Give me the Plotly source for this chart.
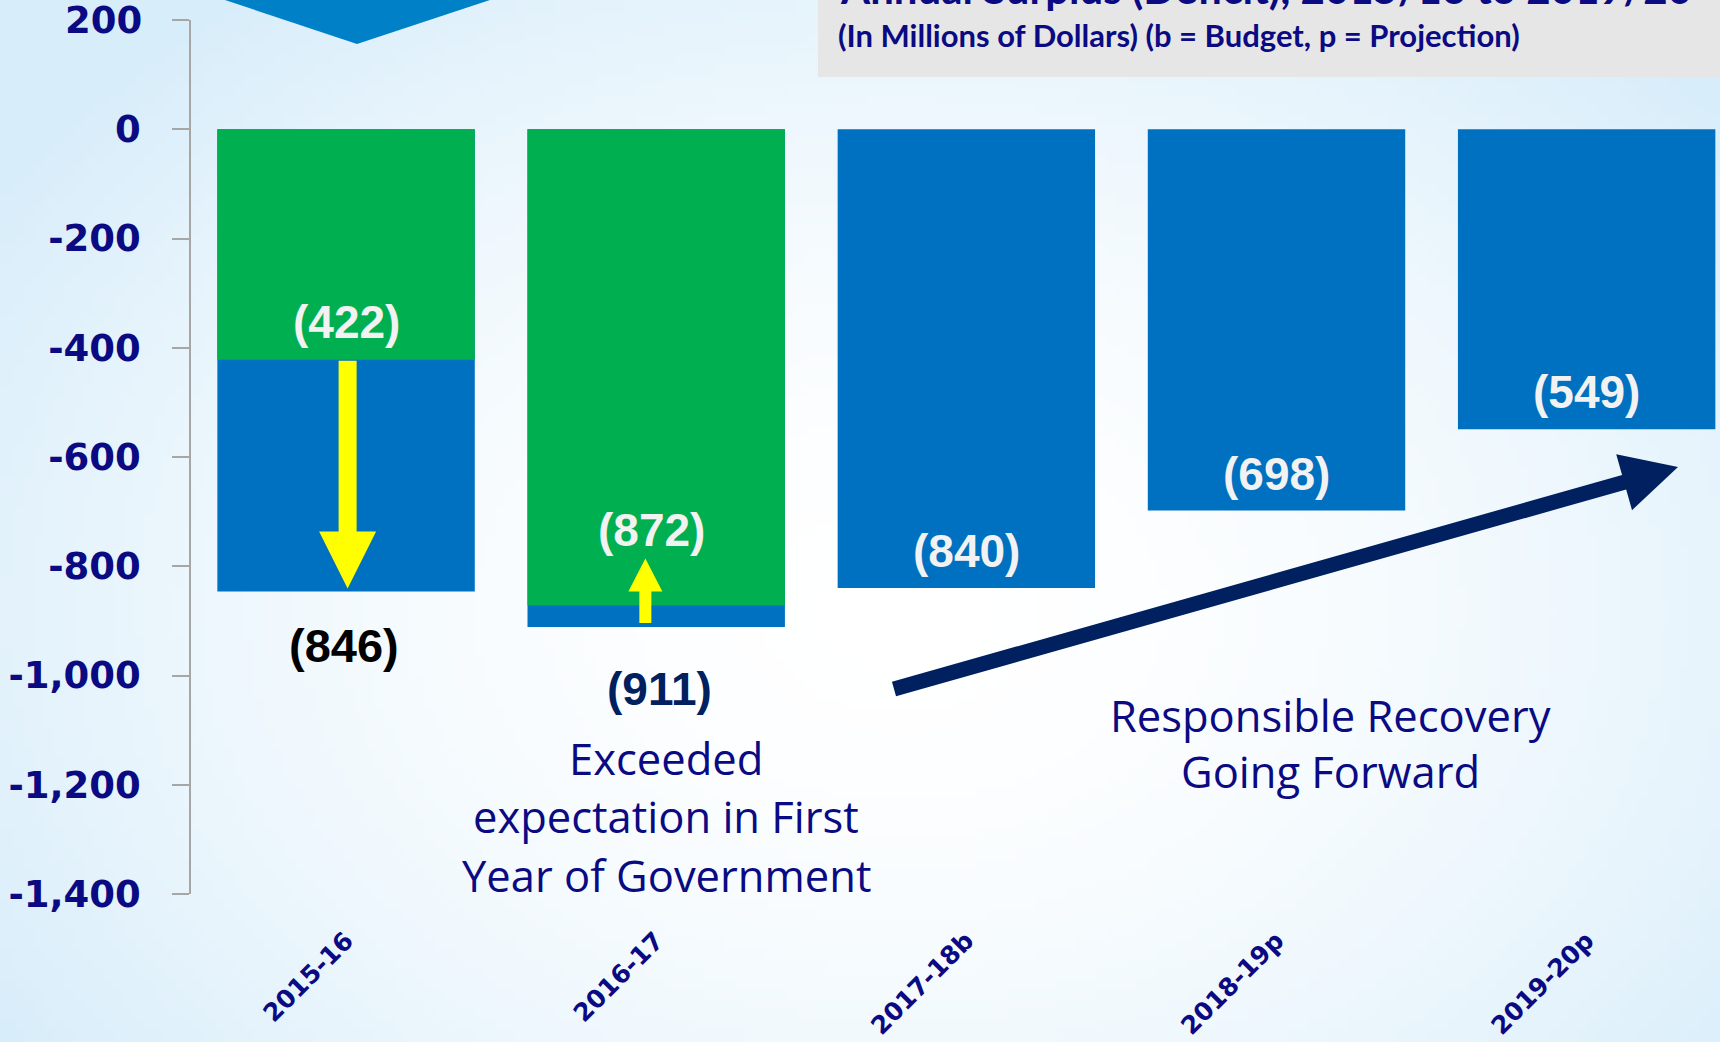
import base64, math, struct, zlib
import plotly.graph_objects as go

# ---------------- data ----------------
categories = ["2015-16", "2016-17", "2017-18b", "2018-19p", "2019-20p"]
actual = [-846, -911, -840, -698, -549]          # blue bars (actual / budget / projection)
expected = [-422, -872, None, None, None]        # green bars (original expectation)
y_ticks = [200, 0, -200, -400, -600, -800, -1000, -1200, -1400]
y_tick_labels = ["200", "0", "-200", "-400", "-600", "-800", "-1,000", "-1,200", "-1,400"]

# ---------------- geometry ----------------
W, H = 1720, 1042
ML, MR, MT, MB = 191, 0, 20, 148
PW, PH = W - ML - MR, H - MT - MB
X_RANGE = [-0.5, 4.43]
Y_RANGE = [-1400, 200]
XPX = PW / (X_RANGE[1] - X_RANGE[0])      # px per category unit
YPX = PH / (Y_RANGE[1] - Y_RANGE[0])      # px per value unit

def px_to_paper(px, py):
    return (px - ML) / PW, (H - MB - py) / PH

NAVY = "#0A0A82"
BLUE = "#0070C0"
GREEN = "#00B050"

# ---------------- background gradient (PNG data uri) ----------------
def make_bg(w=172, h=104):
    cx, cy, rx, ry = 0.52 * w, 0.58 * h, 0.62 * w, 0.75 * h
    edge = (216, 237, 250)
    rows = []
    for j in range(h):
        row = bytearray([0])
        for i in range(w):
            d = math.hypot((i - cx) / rx, (j - cy) / ry)
            t = min(1.0, d) ** 1.8
            row += bytes(int(round(255 * (1 - t) + c * t)) for c in edge)
        rows.append(bytes(row))
    raw = b"".join(rows)
    def chunk(tag, data):
        c = struct.pack(">I", len(data)) + tag + data
        return c + struct.pack(">I", zlib.crc32(tag + data) & 0xFFFFFFFF)
    png = b"\x89PNG\r\n\x1a\n" + chunk(b"IHDR", struct.pack(">IIBBBBB", w, h, 8, 2, 0, 0, 0)) \
        + chunk(b"IDAT", zlib.compress(raw, 9)) + chunk(b"IEND", b"")
    return "data:image/png;base64," + base64.b64encode(png).decode()

fig = go.Figure()
xs = list(range(len(categories)))
fig.add_trace(go.Bar(x=xs, y=actual, width=0.83, marker=dict(color=BLUE, line=dict(width=0)),
                     hoverinfo="x+y", showlegend=False))
fig.add_trace(go.Bar(x=xs, y=expected, width=0.83, marker=dict(color=GREEN, line=dict(width=0)),
                     hoverinfo="x+y", showlegend=False))

def fmt(v):
    return f"({abs(v):,})"

annotations = []
label_font = dict(family="Liberation Sans, Arial", size=46, color="#F2F2F2", weight="bold")
# labels inside bars (light)
for i, v in enumerate(actual):
    if expected[i] is None:
        annotations.append(dict(x=i, y=v, text=fmt(v), showarrow=False, yanchor="middle",
                                yshift=37, font=label_font))
annotations.append(dict(x=0, y=expected[0], text=fmt(expected[0]), showarrow=False,
                        yanchor="middle", yshift=38, font=label_font))
annotations.append(dict(x=1, y=expected[1], text=fmt(expected[1]), showarrow=False,
                        yanchor="middle", yshift=76, xshift=-5, font=label_font))
# labels below bars (dark)
annotations.append(dict(x=0, y=actual[0], text=fmt(actual[0]), showarrow=False, yanchor="middle",
                        yshift=-54, xshift=-2,
                        font=dict(family="Liberation Sans, Arial", size=47, color="#000000",
                                  weight="bold")))
annotations.append(dict(x=1, y=actual[1], text=fmt(actual[1]), showarrow=False, yanchor="middle",
                        yshift=-62, xshift=3,
                        font=dict(family="Liberation Sans, Arial", size=46, color="#002060",
                                  weight="bold")))

text_font = dict(family="Open Sans", size=43.5, color=NAVY)
for line, py in [("Exceeded", 758), ("expectation in First", 816), ("Year of Government", 875)]:
    xp, yp = px_to_paper(666, py)
    annotations.append(dict(xref="paper", yref="paper", x=xp, y=yp, text=line, showarrow=False,
                            xanchor="center", yanchor="middle", font=text_font))
for line, py in [("Responsible Recovery", 715), ("Going Forward", 771)]:
    xp, yp = px_to_paper(1330, py)
    annotations.append(dict(xref="paper", yref="paper", x=xp, y=yp, text=line, showarrow=False,
                            xanchor="center", yanchor="middle", font=text_font))

# title (cut off at top of the slide) and subtitle
xp, yp = px_to_paper(838, 15)
annotations.append(dict(xref="paper", yref="paper", x=xp, y=yp, xanchor="left", yanchor="bottom",
                        text="<b>Annual Surplus (Deficit), 2015/16 to 2019/20</b>", showarrow=False,
                        font=dict(family="Lato", size=42, color=NAVY)))
xp, yp = px_to_paper(836, 35)
annotations.append(dict(xref="paper", yref="paper", x=xp, y=yp, xanchor="left", yanchor="middle",
                        text="<b>(In Millions of Dollars) (b = Budget, p = Projection)</b>", showarrow=False,
                        font=dict(family="Lato", size=31, color=NAVY)))

# the top y tick label sits at the very edge of the figure: draw it as an annotation
tick_font = dict(family="DejaVu Sans", size=37, color=NAVY, weight="bold")
annotations.append(dict(xref="paper", yref="y", x=0, y=y_ticks[0], text=y_tick_labels[0],
                        showarrow=False, xanchor="right", yanchor="middle", xshift=-47,
                        font=tick_font))
axis_tick_text = [""] + y_tick_labels[1:]

shapes = []
# grey title box
x0, y0 = px_to_paper(818, 77)
x1, y1 = px_to_paper(W + 5, -5)
shapes.append(dict(type="rect", xref="paper", yref="paper", x0=x0, y0=y0, x1=x1, y1=y1,
                   fillcolor="#E6E6E6", line=dict(width=0), layer="below"))
# blue chevron at top left
pts = [px_to_paper(219, -2), px_to_paper(357, 44), px_to_paper(496, -2)]
shapes.append(dict(type="path", xref="paper", yref="paper",
                   path="M " + " L ".join(f"{a},{b}" for a, b in pts) + " Z",
                   fillcolor="#0080C6", line=dict(width=0)))

# yellow vertical arrows (data coords)
def v_arrow(x, y_tail, y_tip, shaft_px, head_w_px, head_h_px):
    s = 1 if y_tip > y_tail else -1
    hw = shaft_px / 2 / XPX
    hh = head_w_px / 2 / XPX
    hb = y_tip - s * head_h_px / YPX
    pts = [(x - hw, y_tail), (x - hw, hb), (x - hh, hb), (x, y_tip), (x + hh, hb), (x + hw, hb),
           (x + hw, y_tail)]
    return dict(type="path", xref="x", yref="y",
                path="M " + " L ".join(f"{a},{b}" for a, b in pts) + " Z",
                fillcolor="#FFFF00", line=dict(width=0))

shapes.append(v_arrow(0.005, expected[0] - 1 / YPX, actual[0] + 3 / YPX, 18, 57, 57))
shapes.append(v_arrow(1 - 0.035, actual[1] + 4 / YPX, expected[1] + 47 / YPX, 12, 34, 33))

# big navy trend arrow (pixel geometry -> paper)
def big_arrow(tx, ty, hx, hy, shaft, head_w, head_l):
    dx, dy = hx - tx, hy - ty
    L = math.hypot(dx, dy)
    ux, uy = dx / L, dy / L
    nx, ny = -uy, ux
    bx, by = hx - ux * head_l, hy - uy * head_l
    p = [(tx + nx * shaft / 2, ty + ny * shaft / 2), (bx + nx * shaft / 2, by + ny * shaft / 2),
         (bx + nx * head_w / 2, by + ny * head_w / 2), (hx, hy),
         (bx - nx * head_w / 2, by - ny * head_w / 2), (bx - nx * shaft / 2, by - ny * shaft / 2),
         (tx - nx * shaft / 2, ty - ny * shaft / 2)]
    pp = [px_to_paper(a, b) for a, b in p]
    return dict(type="path", xref="paper", yref="paper",
                path="M " + " L ".join(f"{a},{b}" for a, b in pp) + " Z",
                fillcolor="#002060", line=dict(width=0))

shapes.append(big_arrow(894, 689, 1678, 467, 15, 58, 56))

fig.update_layout(
    width=W, height=H,
    margin=dict(l=ML, r=MR, t=MT, b=MB, autoexpand=False),
    paper_bgcolor="#FFFFFF", plot_bgcolor="rgba(0,0,0,0)",
    barmode="overlay",
    showlegend=False,
    annotations=annotations, shapes=shapes,
    images=[dict(source=make_bg(), xref="paper", yref="paper", x=-ML / PW - 0.001,
                 y=(H - MB) / PH + 0.001, sizex=W / PW + 0.003, sizey=H / PH + 0.003,
                 sizing="stretch", xanchor="left", yanchor="top", layer="below")],
    xaxis=dict(range=X_RANGE, tickvals=xs, ticktext=categories, tickangle=-45, showline=False,
               ticks="", showgrid=False, zeroline=False, ticklabelstandoff=26, automargin=False,
               tickfont=dict(family="DejaVu Sans", size=25, color=NAVY, weight="bold")),
    yaxis=dict(range=Y_RANGE, tickvals=y_ticks, ticktext=axis_tick_text, showline=True,
               linecolor="#A6A6A6", linewidth=1.5, ticks="outside", ticklen=17, tickwidth=1.5,
               tickcolor="#A6A6A6", showgrid=False, zeroline=False, ticklabelstandoff=24,
               automargin=False, tickfont=tick_font),
)

fig.write_html("out.html", config={"displayModeBar": False},
               post_script="document.body.style.margin='0';document.body.style.overflow='hidden';")
